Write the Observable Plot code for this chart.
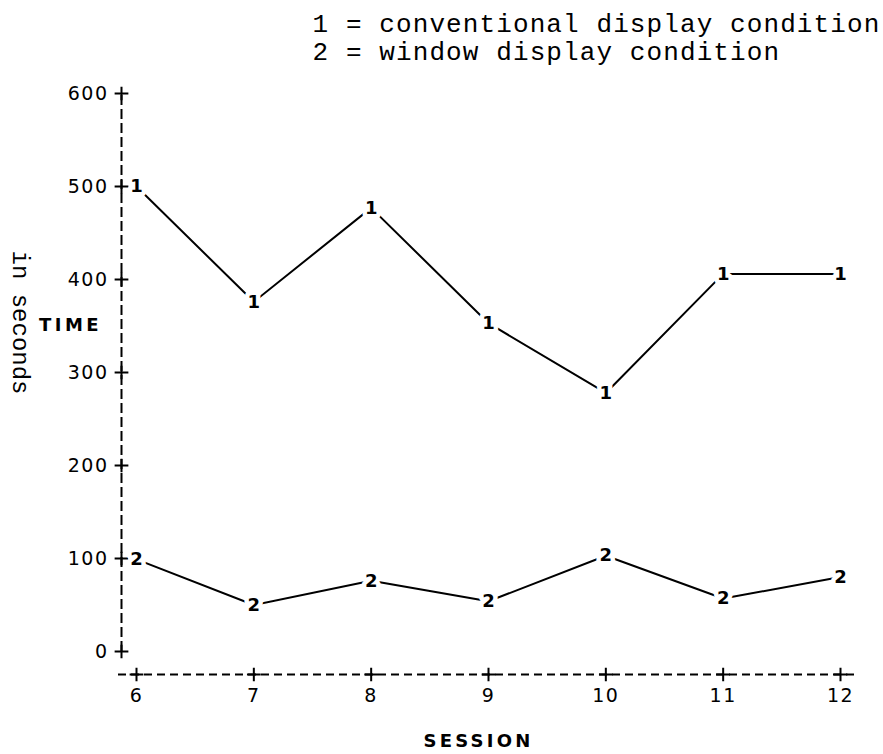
<!DOCTYPE html>
<html>
<head>
<meta charset="utf-8">
<script src="https://cdn.jsdelivr.net/npm/d3@7"></script>
<script src="https://cdn.jsdelivr.net/npm/@observablehq/plot@0.6"></script>
<style>
  html, body { margin: 0; padding: 0; background: #fff; }
  #chart svg { display: block; }
</style>
</head>
<body>
<div id="chart"></div>
<script>
const sessions = [6, 7, 8, 9, 10, 11, 12];
const conventional = [500, 376, 477, 353, 278, 406, 406];
const windowDisplay = [99, 50, 76, 54, 103, 57, 80];
const yTicks = [0, 100, 200, 300, 400, 500, 600];
const legendLines = ["1 = conventional display condition", "2 = window display condition"];
const seriesCodes = ["1", "2"];

const rows = [];
sessions.forEach((s, i) => {
  rows.push({session: s, time: conventional[i], code: seriesCodes[0]});
  rows.push({session: s, time: windowDisplay[i], code: seriesCodes[1]});
});

const chart = Plot.plot({
  width: 883,
  height: 754,
  marginLeft: 136,
  marginRight: 43,
  marginTop: 93,
  marginBottom: 103,
  style: {fontFamily: "DejaVu Sans", background: "white", color: "black"},
  x: {domain: [6, 12], axis: null},
  y: {domain: [0, 600], axis: null},
  marks: [
    // y axis dashed line and plus ticks
    Plot.ruleX([6], {y1: 0, y2: 600, dx: -15, strokeWidth: 2, strokeDasharray: "10,4"}),
    Plot.dot(yTicks, {y: d => d, frameAnchor: "left", dx: -15, symbol: "plus", r: 4.5, strokeWidth: 2}),
    Plot.axisY({ticks: yTicks, tickSize: 0, tickPadding: 28, anchor: "left", label: null, fontSize: 19, tickFormat: d => String(d)}),
    // x axis dashed line and plus ticks
    Plot.ruleY([0], {dy: 23, insetLeft: -18, insetRight: -17, strokeWidth: 2, strokeDasharray: "8,5"}),
    Plot.dot(sessions, {x: d => d, frameAnchor: "bottom", dy: 23, symbol: "plus", r: 4.5, strokeWidth: 2}),
    Plot.axisX({ticks: sessions, tickSize: 0, tickPadding: 37, anchor: "bottom", label: null, fontSize: 19, tickFormat: d => String(d)}),
    // series lines
    Plot.line(rows, {x: "session", y: "time", z: "code", stroke: "black", strokeWidth: 2}),
    Plot.text(rows, {x: "session", y: "time", text: "code", fontSize: 18, fontWeight: "bold", stroke: "white", strokeWidth: 9, fill: "black"}),
    // axis titles
    Plot.text(["TIME"], {frameAnchor: "left", dx: -66, dy: -47, textAnchor: "middle", lineAnchor: "middle", text: d => d, fontSize: 18, fontWeight: "bold"}),
    Plot.text(["in seconds"], {frameAnchor: "left", dx: -116, dy: -50, textAnchor: "middle", lineAnchor: "middle", rotate: 90, text: d => d, fontFamily: "Liberation Mono", fontSize: 24}),
    Plot.text(["SESSION"], {frameAnchor: "bottom", dx: -10, dy: 90, textAnchor: "middle", lineAnchor: "middle", text: d => d, fontSize: 18, fontWeight: "bold"}),
    // legend
    Plot.text([legendLines[0]], {frameAnchor: "top-left", dx: 176, dy: -70, text: d => d, textAnchor: "start", lineAnchor: "middle", fontFamily: "Liberation Mono", fontSize: 26}),
    Plot.text([legendLines[1]], {frameAnchor: "top-left", dx: 176, dy: -42, text: d => d, textAnchor: "start", lineAnchor: "middle", fontFamily: "Liberation Mono", fontSize: 26})
  ]
});

// letter spacing (not a Plot text option) to match the wide typewriter look
const spacing = {"TIME": "3.5px", "SESSION": "3.2px"};
d3.select(chart).selectAll("text").each(function () {
  const t = this.textContent;
  if (spacing[t]) this.setAttribute("letter-spacing", spacing[t]);
  else if (legendLines.includes(t)) this.setAttribute("letter-spacing", "1.1px");
});
d3.select(chart).selectAll("g[aria-label='y-axis tick label'] text, g[aria-label='x-axis tick label'] text")
  .attr("letter-spacing", "1.5px");

document.getElementById("chart").appendChild(chart);
</script>
</body>
</html>
